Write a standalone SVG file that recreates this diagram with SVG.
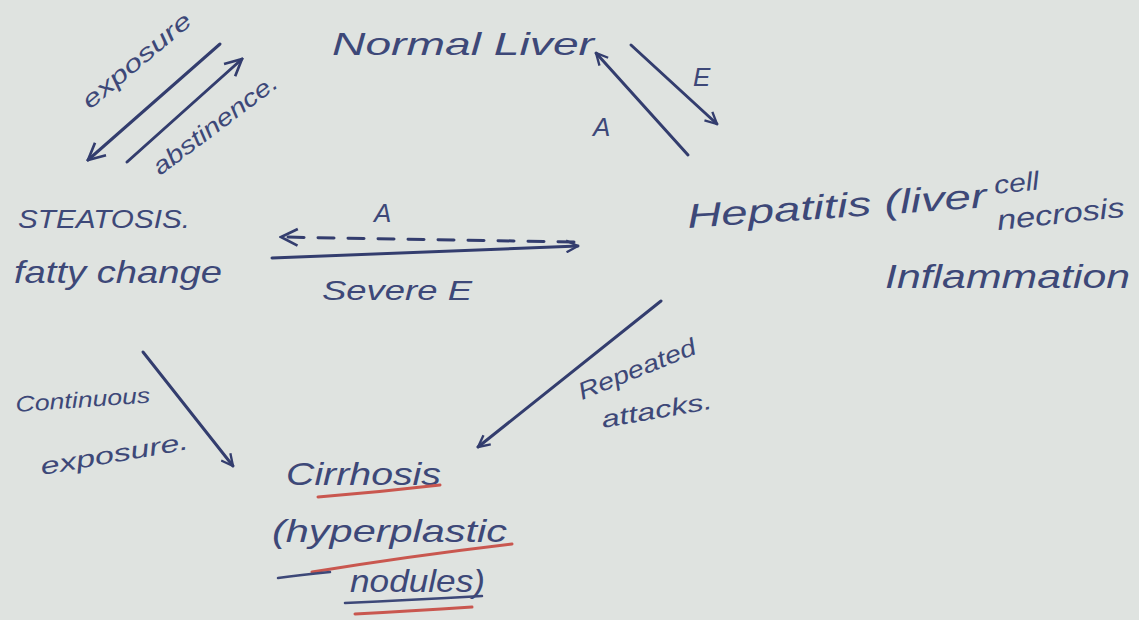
<svg xmlns="http://www.w3.org/2000/svg" width="1139" height="620" viewBox="0 0 1139 620">
<style>
.t{font-family:"Liberation Sans",Arial,sans-serif;fill:#3d4878;font-style:italic}
.c{stroke:#333d6e;stroke-width:3;fill:none;stroke-linecap:round}
.r{stroke:#c9574f;stroke-width:3;fill:none;stroke-linecap:round}
.u{stroke:#3d4878;stroke-width:2.5;fill:none;stroke-linecap:round}
</style>
<defs>
<marker id="ah" viewBox="0 0 12 12" refX="11" refY="6" markerWidth="14" markerHeight="14" markerUnits="userSpaceOnUse" orient="auto">
<path d="M1,1 L11,6 L1,11" fill="none" stroke="#333d6e" stroke-width="2"/>
</marker>
<marker id="ahs" viewBox="0 0 12 12" refX="11" refY="6" markerWidth="20" markerHeight="20" markerUnits="userSpaceOnUse" orient="auto">
<path d="M1,1 L11,6 L1,11" fill="none" stroke="#333d6e" stroke-width="1.6"/>
</marker>
</defs>
<rect width="1139" height="620" fill="#dfe3e0"/>

<g id="normal-liver">
<text class="t" x="332" y="55" font-size="32" textLength="262" lengthAdjust="spacingAndGlyphs">Normal Liver</text>
</g>
<g id="steatosis">
<text class="t" x="18" y="228" font-size="26" textLength="172" lengthAdjust="spacingAndGlyphs">STEATOSIS.</text>
<text class="t" x="14" y="283" font-size="32" textLength="208" lengthAdjust="spacingAndGlyphs">fatty change</text>
</g>
<g id="hepatitis">
<text class="t" x="688" y="228" font-size="34" textLength="300" lengthAdjust="spacingAndGlyphs" transform="rotate(-4 688 228)">Hepatitis (liver</text>
<text class="t" x="995" y="194" font-size="26" textLength="45" lengthAdjust="spacingAndGlyphs" transform="rotate(-6 995 194)">cell</text>
<text class="t" x="998" y="230" font-size="28" textLength="128" lengthAdjust="spacingAndGlyphs" transform="rotate(-6 998 230)">necrosis</text>
<text class="t" x="885" y="288" font-size="34" textLength="245" lengthAdjust="spacingAndGlyphs">Inflammation</text>
</g>
<g id="cirrhosis">
<text class="t" x="286" y="485" font-size="32" textLength="155" lengthAdjust="spacingAndGlyphs">Cirrhosis</text>
<text class="t" x="272" y="542" font-size="32" textLength="235" lengthAdjust="spacingAndGlyphs">(hyperplastic</text>
<text class="t" x="350" y="592" font-size="32" textLength="135" lengthAdjust="spacingAndGlyphs">nodules)</text>
<path class="r" d="M318,497 Q380,492 440,485"/>
<path class="r" d="M312,572 Q410,556 512,544"/>
<path class="u" d="M278,578 Q300,575 330,572"/>
<path class="u" d="M345,603 Q410,600 482,596"/>
<path class="r" d="M355,614 Q410,611 472,607"/>
</g>

<g id="connectors">
<line class="c" x1="220" y1="44" x2="88" y2="160" marker-end="url(#ahs)" stroke-width="2"/>
<line class="c" x1="127" y1="162" x2="242" y2="59" marker-end="url(#ahs)" stroke-width="2"/>
<text class="t" x="0" y="0" font-size="24" textLength="135" lengthAdjust="spacingAndGlyphs" transform="translate(90,110) rotate(-40)">exposure</text>
<text class="t" x="0" y="0" font-size="24" textLength="150" lengthAdjust="spacingAndGlyphs" transform="translate(160,176) rotate(-37)">abstinence.</text>

<line class="c" x1="688" y1="155" x2="596" y2="53" marker-end="url(#ah)"/>
<text class="t" x="593" y="136" font-size="26">A</text>
<line class="c" x1="631" y1="45" x2="717" y2="124" marker-end="url(#ah)"/>
<text class="t" x="693" y="86" font-size="26">E</text>

<line class="c" x1="574" y1="242" x2="281" y2="237" stroke-dasharray="16 14" stroke-width="2" marker-end="url(#ahs)"/>
<text class="t" x="374" y="222" font-size="26">A</text>
<line class="c" x1="272" y1="258" x2="578" y2="246" marker-end="url(#ah)"/>
<text class="t" x="322" y="300" font-size="28" textLength="150" lengthAdjust="spacingAndGlyphs">Severe E</text>

<line class="c" x1="143" y1="352" x2="233" y2="466" marker-end="url(#ah)"/>
<text class="t" x="16" y="412" font-size="22" textLength="135" lengthAdjust="spacingAndGlyphs" transform="rotate(-4 16 412)">Continuous</text>
<text class="t" x="42" y="475" font-size="24" textLength="150" lengthAdjust="spacingAndGlyphs" transform="rotate(-10 42 475)">exposure.</text>

<line class="c" x1="661" y1="301" x2="478" y2="447" marker-end="url(#ah)" stroke-width="2.5"/>
<text class="t" x="0" y="0" font-size="24" textLength="125" lengthAdjust="spacingAndGlyphs" transform="translate(582,400) rotate(-22)">Repeated</text>
<text class="t" x="0" y="0" font-size="24" textLength="112" lengthAdjust="spacingAndGlyphs" transform="translate(603,428) rotate(-10)">attacks.</text>
</g>
</svg>
